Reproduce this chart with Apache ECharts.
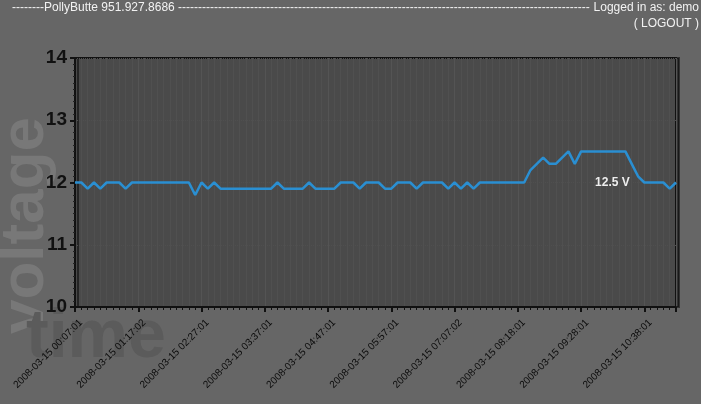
<!DOCTYPE html>
<html>
<head>
<meta charset="utf-8">
<script src="https://cdn.jsdelivr.net/npm/echarts@6/dist/echarts.min.js"></script>
<style>
html,body{margin:0;padding:0;background:#666666;}
#c{width:701px;height:404px;}
</style>
</head>
<body>
<div id="c"></div>
<script>
// x tick labels (every 10th sample, ~7 min per sample)
const tickLabels = ['2008-03-15 00:07:01','2008-03-15 01:17:02','2008-03-15 02:27:01','2008-03-15 03:37:01','2008-03-15 04:47:01','2008-03-15 05:57:01','2008-03-15 07:07:02','2008-03-15 08:18:01','2008-03-15 09:28:01','2008-03-15 10:38:01'];
// voltage samples
const voltage = [
 12.0,12.0,11.9,12.0,11.9,12.0,12.0,12.0,11.9,12.0,
 12.0,12.0,12.0,12.0,12.0,12.0,12.0,12.0,12.0,11.8,
 12.0,11.9,12.0,11.9,11.9,11.9,11.9,11.9,11.9,11.9,
 11.9,11.9,12.0,11.9,11.9,11.9,11.9,12.0,11.9,11.9,
 11.9,11.9,12.0,12.0,12.0,11.9,12.0,12.0,12.0,11.9,
 11.9,12.0,12.0,12.0,11.9,12.0,12.0,12.0,12.0,11.9,
 12.0,11.9,12.0,11.9,12.0,12.0,12.0,12.0,12.0,12.0,
 12.0,12.0,12.2,12.3,12.4,12.3,12.3,12.4,12.5,12.3,
 12.5,12.5,12.5,12.5,12.5,12.5,12.5,12.5,12.3,12.1,
 12.0,12.0,12.0,12.0,11.9,12.0
];
const yTicks = [10, 11, 12, 13, 14];
const headerLeft = '--------PollyButte 951.927.8686 ';
const headerRight = 'Logged in as: demo';
const logoutText = '( LOGOUT )';

const seriesData = voltage.map((v, i) => [i, v]);
const chart = echarts.init(document.getElementById('c'), null, {renderer: 'canvas'});
let dashes = '';
for (let i = 0; i < 103; i++) dashes += '-';

const hdrFont = '12px "Liberation Sans", Arial, sans-serif';
chart.setOption({
  backgroundColor: '#666666',
  animation: false,
  graphic: [
    {type: 'text', left: 12, top: 2, style: {text: headerLeft + dashes, fill: '#f2f2f2', font: hdrFont}},
    {type: 'text', right: 2, top: 2, style: {text: headerRight, fill: '#f2f2f2', font: hdrFont}},
    {type: 'text', right: 2, top: 18, style: {text: logoutText, fill: '#f2f2f2', font: hdrFont}},
    {type: 'text', x: 57, y: 334, rotation: Math.PI / 2, z: -10, style: {text: 'voltage', fill: '#787878', font: 'bold 62px "Liberation Sans", Arial, sans-serif', textAlign: 'left', textVerticalAlign: 'bottom'}},
    {type: 'text', x: 26, y: 372, z: -10, style: {text: 'time', fill: '#5b5b5b', font: 'bold 68px "Liberation Sans", Arial, sans-serif', textAlign: 'left', textVerticalAlign: 'bottom'}}
  ],
  grid: {
    left: 75, right: 25, top: 58, bottom: 97,
    show: true, backgroundColor: '#4a4a4a', borderColor: '#111', borderWidth: 2,
    shadowColor: 'rgba(0,0,0,0.5)', shadowBlur: 0, shadowOffsetX: 3, shadowOffsetY: 0
  },
  xAxis: {
    type: 'value', min: 0, max: voltage.length - 1, interval: 10,
    axisLine: {show: true, lineStyle: {color: '#111', width: 2}},
    axisTick: {show: true, length: 5, lineStyle: {color: '#111', width: 2}},
    minorTick: {show: true, splitNumber: 10, length: 3, lineStyle: {color: '#111'}},
    splitLine: {show: true, lineStyle: {color: '#545454', width: 1}},
    minorSplitLine: {show: true, lineStyle: {color: '#505050', width: 1}},
    axisLabel: {
      rotate: 45, margin: 8, color: '#0a0a0a', fontSize: 10,
      verticalAlign: 'top', lineHeight: 17,
      fontFamily: '"Liberation Sans", Arial, sans-serif',
      formatter: v => tickLabels[Math.round(v / 10)] || '',
      showMaxLabel: false
    }
  },
  yAxis: {
    type: 'value', min: yTicks[0], max: yTicks[yTicks.length - 1], interval: 1,
    axisLine: {show: true, lineStyle: {color: '#111', width: 2}},
    axisTick: {show: true, length: 5, lineStyle: {color: '#111', width: 2}},
    minorTick: {show: true, splitNumber: 10, length: 2, lineStyle: {color: '#222'}},
    splitLine: {show: true, lineStyle: {color: '#4f4f4f', type: 'dotted'}},
    axisLabel: {
      color: '#111', fontSize: 19, fontWeight: 'bold', margin: 8,
      fontFamily: '"Liberation Sans", Arial, sans-serif'
    }
  },
  series: [{
    type: 'line', data: seriesData, showSymbol: false, symbol: 'none',
    lineStyle: {color: '#2a8fd2', width: 2.5},
    markPoint: {
      symbol: 'circle', symbolSize: 0,
      label: {show: true, position: 'inside', offset: [44, 31], color: '#eeeeee', fontWeight: 'bold', fontSize: 12,
        fontFamily: '"Liberation Sans", Arial, sans-serif', formatter: p => p.value + ' V'},
      data: [{type: 'max'}]
    }
  }]
});
</script>
</body>
</html>
